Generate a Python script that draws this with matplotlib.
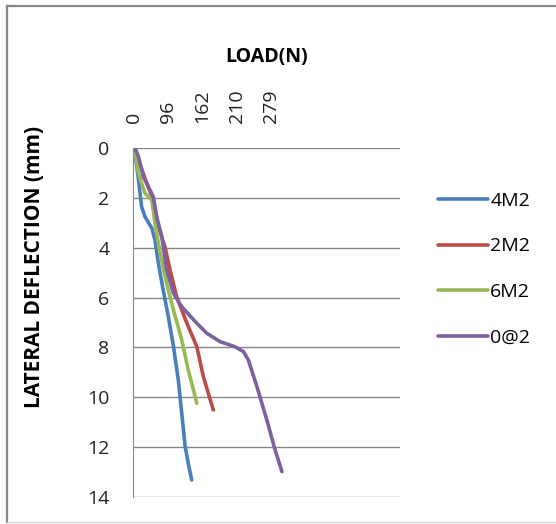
import matplotlib.pyplot as plt
from matplotlib.lines import Line2D

plt.rcParams['font.family'] = ['Open Sans', 'DejaVu Sans']

# x is in tick-step units of the (evenly spaced) load labels
load_labels = ['0', '96', '162', '210', '279']

x_4m2 = [0.01, 0.13, 0.22, 0.32, 0.52, 0.61, 0.71, 0.85, 1.0, 1.15, 1.29, 1.39, 1.49, 1.58, 1.68]
y_4m2 = [0.0, 1.28, 2.35, 2.76, 3.22, 3.69, 4.63, 5.7, 6.77, 7.97, 9.31, 10.64, 11.98, 12.65, 13.32]

x_2m2 = [0.01, 0.27, 0.56, 0.71, 0.90, 1.05, 1.24, 1.54, 1.83, 2.02, 2.31]
y_2m2 = [0.0, 1.03, 2.09, 3.16, 3.96, 4.89, 5.96, 7.03, 7.97, 9.17, 10.51]

x_6m2 = [0.01, 0.13, 0.32, 0.52, 0.61, 0.76, 0.95, 1.15, 1.39, 1.58, 1.83]
y_6m2 = [0.0, 1.03, 1.82, 2.09, 3.02, 4.22, 5.43, 6.5, 7.7, 8.9, 10.24]

x_0a2 = [0.03, 0.13, 0.27, 0.56, 0.66, 0.81, 0.95, 1.15, 1.39, 1.83, 2.12, 2.51, 2.94, 3.19, 3.33, 3.58, 3.87, 4.11, 4.31]
y_0a2 = [0.0, 0.35, 1.15, 1.95, 2.76, 3.56, 4.89, 5.83, 6.37, 7.03, 7.43, 7.77, 7.97, 8.17, 8.5, 9.57, 10.91, 12.11, 12.98]

W, H = 556, 524
fig = plt.figure(figsize=(W / 100, H / 100), dpi=100)
ax = fig.add_axes([133 / W, 1 - 497 / H, 267 / W, 349 / H])

style = dict(lw=2.6, solid_capstyle='round', solid_joinstyle='round')
ax.plot(x_4m2, y_4m2, color='#4A7EBB', label='4M2', **style)
ax.plot(x_2m2, y_2m2, color='#BE4B48', label='2M2', **style)
ax.plot(x_6m2, y_6m2, color='#98B954', label='6M2', **style)
ax.plot(x_0a2, y_0a2, color='#7D60A0', label='0@2', **style)

ax.set_xlim(-0.03, 7.75)
ax.set_ylim(14, 0)
ax.set_yticks(range(0, 15, 2))
ax.yaxis.grid(True, color='#868686', lw=1)
ax.set_axisbelow(True)
ax.xaxis.tick_top()
ax.set_xticks(range(len(load_labels)))
ax.set_xticklabels(load_labels, rotation=90)
ax.tick_params(axis='x', length=0, pad=18, labelsize=14, colors='#222222')
ax.tick_params(axis='y', length=0, pad=17, labelsize=14, colors='#222222')
for s in ['top', 'right', 'bottom']:
    ax.spines[s].set_visible(False)
ax.spines['left'].set_color('#868686')

fig.text(267 / W, 1 - 57 / H, 'LOAD(N)', ha='center', va='center', fontsize=14, fontweight='bold')
fig.text(35 / W, 1 - 267 / H, 'LATERAL DEFLECTION (mm)', ha='center', va='center',
         rotation=90, fontsize=15, fontweight='bold')

leg = ax.legend(loc='upper left', bbox_to_anchor=(428 / W, 1 - 182 / H), bbox_transform=fig.transFigure,
                frameon=False, fontsize=14, handlelength=2.6, handletextpad=0.1, labelspacing=1.42,
                borderpad=0)

# chart area border
fig.add_artist(Line2D([7 / W, 7 / W], [1 - 6 / H, 1 - 522 / H], transform=fig.transFigure, color='#888888', lw=1.6))
fig.add_artist(Line2D([7 / W, 1], [1 - 6 / H, 1 - 6 / H], transform=fig.transFigure, color='#888888', lw=1.6))
fig.add_artist(Line2D([7 / W, 1], [1 - 522 / H, 1 - 522 / H], transform=fig.transFigure, color='#d9d9d9', lw=1))

fig.savefig('out.png', dpi=100)
